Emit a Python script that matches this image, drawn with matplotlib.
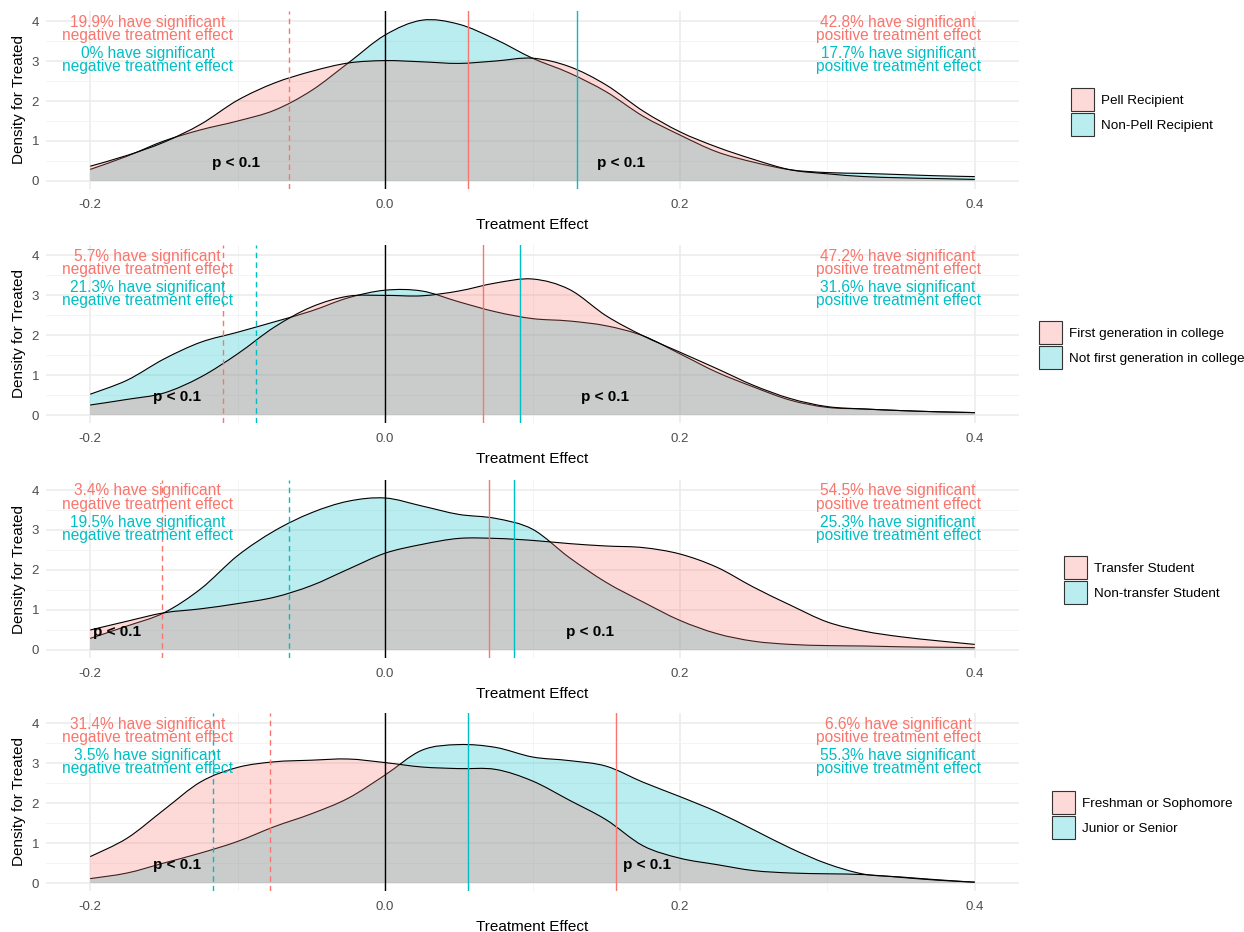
import matplotlib
import matplotlib.pyplot as plt
import numpy as np
from matplotlib.colors import to_rgba
from matplotlib.patches import Patch, PathPatch
from matplotlib.path import Path

matplotlib.use("Agg")

PINK = "#F8766D"
CYAN = "#00BFC4"
FILL_ALPHA = 0.27

# eixo x comum das densidades
effect_x = [-0.2, -0.175, -0.15, -0.125, -0.1, -0.075, -0.05, -0.025, 0.0,
            0.025, 0.05, 0.075, 0.1, 0.125, 0.15, 0.175, 0.2, 0.225, 0.25,
            0.275, 0.3, 0.325, 0.35, 0.375, 0.4]

pell_dens = [0.37, 0.64, 0.97, 1.42, 2.02, 2.45, 2.74, 2.95, 3.01, 2.98, 2.94,
             3.0, 3.07, 2.86, 2.4, 1.75, 1.23, 0.85, 0.54, 0.28, 0.18, 0.11,
             0.08, 0.06, 0.04]
nonpell_dens = [0.29, 0.62, 1.0, 1.28, 1.5, 1.77, 2.26, 2.95, 3.65, 4.02, 3.92,
                3.54, 3.07, 2.7, 2.23, 1.62, 1.15, 0.73, 0.47, 0.28, 0.21, 0.19,
                0.16, 0.13, 0.11]

firstgen_dens = [0.25, 0.39, 0.55, 0.95, 1.53, 2.2, 2.7, 2.97, 2.99, 2.98,
                 3.1, 3.3, 3.4, 3.14, 2.48, 1.98, 1.57, 1.16, 0.74, 0.41,
                 0.21, 0.15, 0.11, 0.08, 0.06]
notfirstgen_dens = [0.52, 0.87, 1.4, 1.82, 2.07, 2.33, 2.6, 2.93, 3.12, 3.1,
                    2.83, 2.58, 2.41, 2.35, 2.23, 1.98, 1.53, 1.07, 0.7, 0.37,
                    0.19, 0.15, 0.11, 0.08, 0.06]

transfer_dens = [0.5, 0.72, 0.93, 1.03, 1.16, 1.32, 1.61, 2.02, 2.42, 2.64,
                 2.79, 2.79, 2.74, 2.66, 2.6, 2.56, 2.4, 2.07, 1.57, 1.12, 0.7,
                 0.47, 0.33, 0.23, 0.14]
nontransfer_dens = [0.29, 0.6, 0.93, 1.53, 2.36, 2.98, 3.43, 3.72, 3.8, 3.6,
                    3.39, 3.29, 3.02, 2.31, 1.69, 1.2, 0.74, 0.41, 0.22, 0.14,
                    0.11, 0.1, 0.08, 0.07, 0.06]

lower_dens = [0.66, 1.12, 1.83, 2.53, 2.89, 3.03, 3.07, 3.1, 3.01, 2.9, 2.86,
              2.84, 2.55, 2.07, 1.58, 0.93, 0.62, 0.46, 0.31, 0.25, 0.23, 0.21,
              0.14, 0.07, 0.02]
upper_dens = [0.11, 0.25, 0.5, 0.75, 1.04, 1.41, 1.73, 2.12, 2.7, 3.32, 3.46,
              3.39, 3.15, 3.06, 2.92, 2.52, 2.16, 1.78, 1.33, 0.87, 0.48, 0.22,
              0.15, 0.08, 0.02]

pink_series = [pell_dens, firstgen_dens, transfer_dens, lower_dens]
cyan_series = [nonpell_dens, notfirstgen_dens, nontransfer_dens, upper_dens]

pink_labels = ["Pell Recipient", "First generation in college",
               "Transfer Student", "Freshman or Sophomore"]
cyan_labels = ["Non-Pell Recipient", "Not first generation in college",
               "Non-transfer Student", "Junior or Senior"]

# médias (linha sólida) e limiar negativo (linha tracejada)
pink_mean = [0.056, 0.0665, 0.0705, 0.1566]
cyan_mean = [0.130, 0.0915, 0.0875, 0.056]
pink_cut = [-0.065, -0.11, -0.151, -0.078]
cyan_cut = [None, -0.0875, -0.065, -0.117]

pink_neg_pct = ["19.9%", "5.7%", "3.4%", "31.4%"]
cyan_neg_pct = ["0%", "21.3%", "19.5%", "3.5%"]
pink_pos_pct = ["42.8%", "47.2%", "54.5%", "6.6%"]
cyan_pos_pct = ["17.7%", "31.6%", "25.3%", "55.3%"]

p_left_x = [-0.101, -0.141, -0.182, -0.141]
p_right_x = [0.16, 0.149, 0.139, 0.178]


def smooth_path(x, y, closed):
    # curva de Bezier passando pelos pontos lidos (Catmull-Rom)
    pts = np.column_stack([x, y])
    ext = np.vstack([pts[0], pts, pts[-1]])
    verts, codes = [], []
    if closed:
        verts.append((x[0], 0.0))
        codes.append(Path.MOVETO)
        verts.append(tuple(pts[0]))
        codes.append(Path.LINETO)
    else:
        verts.append(tuple(pts[0]))
        codes.append(Path.MOVETO)
    for k in range(len(pts) - 1):
        p0, p1, p2, p3 = ext[k], ext[k + 1], ext[k + 2], ext[k + 3]
        c1 = p1 + (p2 - p0) / 6.0
        c2 = p2 - (p3 - p1) / 6.0
        verts += [tuple(c1), tuple(c2), tuple(p2)]
        codes += [Path.CURVE4] * 3
    if closed:
        verts.append((x[-1], 0.0))
        codes.append(Path.LINETO)
        verts.append((x[0], 0.0))
        codes.append(Path.CLOSEPOLY)
    return Path(verts, codes)


W, H = 1244, 932
fig = plt.figure(figsize=(W / 100, H / 100), dpi=100)

FONT = ["Liberation Sans", "DejaVu Sans"]
panel_px = [(11, 189), (245, 423), (480, 658), (713, 891)]
legend_y = [112, 345, 580, 815]
left_px, right_px = 46, 1019

for i in range(4):
    top, bot = panel_px[i]
    ax = fig.add_axes([left_px / W, 1 - bot / H, (right_px - left_px) / W, (bot - top) / H])
    x = np.array(effect_x)
    for dens, col, z in [(cyan_series[i], CYAN, 2), (pink_series[i], PINK, 2.2)]:
        y = np.array(dens)
        ax.add_patch(PathPatch(smooth_path(x, y, True), facecolor=to_rgba(col, FILL_ALPHA),
                               edgecolor="none", zorder=z))
        ax.add_patch(PathPatch(smooth_path(x, y, False), facecolor="none",
                               edgecolor="black", lw=0.8, zorder=z + 0.1))

    ax.axvline(0, color="black", lw=1.0, zorder=3)
    ax.axvline(pink_mean[i], color=PINK, lw=1.0, zorder=3)
    ax.axvline(cyan_mean[i], color=CYAN, lw=1.0, zorder=3)
    ax.axvline(pink_cut[i], color=PINK, lw=1.0, ls=(0, (4, 3)), zorder=3)
    if cyan_cut[i] is not None:
        ax.axvline(cyan_cut[i], color=CYAN, lw=1.0, ls=(0, (4, 3)), zorder=3)

    tkw = dict(ha="center", va="center", fontsize=11.2, linespacing=0.85,
               family=FONT, zorder=4)
    ax.text(-0.161, 3.81, f"{pink_neg_pct[i]} have significant\nnegative treatment effect",
            color=PINK, **tkw)
    ax.text(-0.161, 3.03, f"{cyan_neg_pct[i]} have significant\nnegative treatment effect",
            color=CYAN, **tkw)
    ax.text(0.348, 3.81, f"{pink_pos_pct[i]} have significant\npositive treatment effect",
            color=PINK, **tkw)
    ax.text(0.348, 3.03, f"{cyan_pos_pct[i]} have significant\npositive treatment effect",
            color=CYAN, **tkw)

    pkw = dict(ha="center", va="center", fontsize=11, fontweight="bold",
               family=FONT, color="black", zorder=4)
    ax.text(p_left_x[i], 0.45, "p < 0.1", **pkw)
    ax.text(p_right_x[i], 0.45, "p < 0.1", **pkw)

    ax.set_xlim(-0.23, 0.43)
    ax.set_ylim(-0.2, 4.25)
    ax.set_xticks([-0.2, 0.0, 0.2, 0.4])
    ax.set_xticklabels(["-0.2", "0.0", "0.2", "0.4"])
    ax.set_xticks([-0.1, 0.1, 0.3], minor=True)
    ax.set_yticks([0, 1, 2, 3, 4])
    ax.set_yticks([0.5, 1.5, 2.5, 3.5], minor=True)
    ax.grid(True, which="major", color="#EBEBEB", lw=1.1, zorder=0)
    ax.grid(True, which="minor", color="#F2F2F2", lw=0.6, zorder=0)
    ax.set_axisbelow(True)
    for s in ax.spines.values():
        s.set_visible(False)
    ax.tick_params(axis="both", which="both", length=0, labelsize=9.5,
                   labelcolor="#4D4D4D")
    ax.tick_params(axis="x", pad=7)
    ax.tick_params(axis="y", pad=5)
    for lab in ax.get_xticklabels() + ax.get_yticklabels():
        lab.set_family(FONT)
    ax.set_xlabel("Treatment Effect", fontsize=11, family=FONT, labelpad=5)
    ax.set_ylabel("Density for Treated", fontsize=11, family=FONT, labelpad=4)

    handles = [
        Patch(facecolor=to_rgba(PINK, FILL_ALPHA), edgecolor="#333333", lw=0.8,
              label=pink_labels[i]),
        Patch(facecolor=to_rgba(CYAN, FILL_ALPHA), edgecolor="#333333", lw=0.8,
              label=cyan_labels[i]),
    ]
    ax.legend(handles=handles, loc="center", bbox_to_anchor=(1142 / W, 1 - legend_y[i] / H),
              bbox_transform=fig.transFigure, frameon=False,
              prop={"family": FONT, "size": 9.7}, handlelength=1.7, handleheight=2.3,
              labelspacing=0.12, handletextpad=0.5, borderpad=0)

fig.savefig("out.png", dpi=100)
plt.close(fig)
